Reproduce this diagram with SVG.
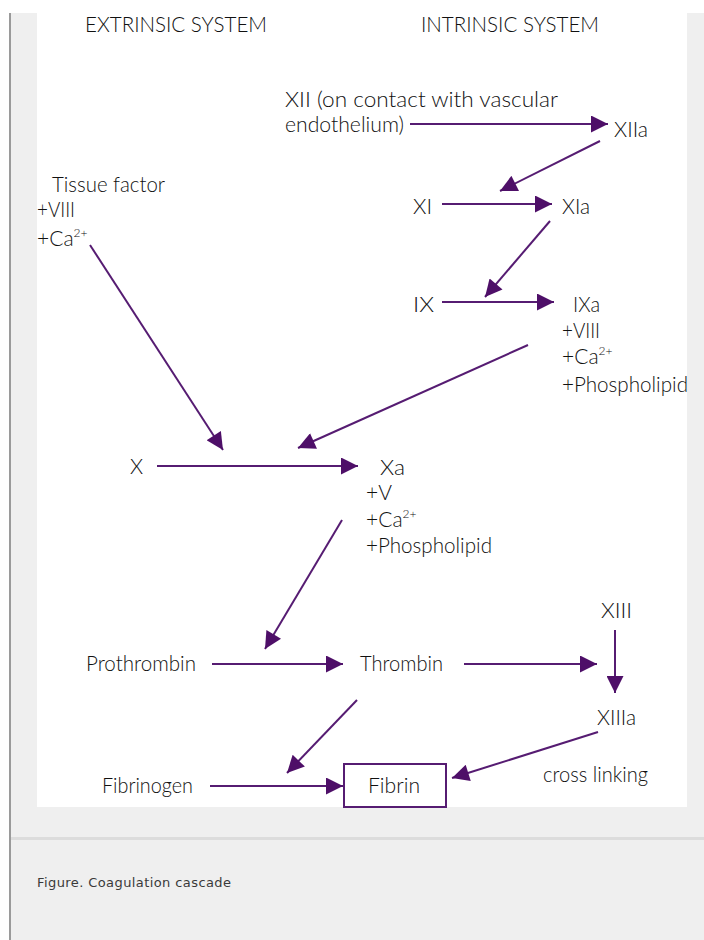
<svg xmlns="http://www.w3.org/2000/svg" width="704" height="940" viewBox="0 0 704 940">
<style>
  .t { font-family: "Lato", "Open Sans", "Liberation Sans", sans-serif; font-size: 21px; font-weight: 300; fill: #111111; }
  .sup { font-size: 12px; }
  .c { stroke: #561c72; stroke-width: 2; fill: none; }
  .cap { font-family: "DejaVu Sans", "Liberation Sans", sans-serif; font-size: 13px; fill: #3a3a3a; }
</style>
<defs>
  <marker id="ah2" viewBox="0 0 10 10" refX="10" refY="5" markerWidth="19" markerHeight="17" markerUnits="userSpaceOnUse" orient="auto">
    <path d="M0,0 L10,5 L0,10 z" fill="#4e0f68"/>
  </marker>
</defs>
<rect x="0" y="0" width="704" height="940" fill="#ffffff"/>
<rect x="11" y="13" width="693" height="927" fill="#efefef"/>
<rect x="9" y="13" width="2" height="927" fill="#9a9a9a"/>
<rect x="37" y="0" width="650" height="807" fill="#ffffff"/>
<rect x="11" y="837" width="693" height="3" fill="#dcdcdc"/>
<text class="cap" x="37" y="887" textLength="194" lengthAdjust="spacing">Figure. Coagulation cascade</text>

<g id="headers">
  <text class="t" x="85" y="32" textLength="182" lengthAdjust="spacingAndGlyphs">EXTRINSIC SYSTEM</text>
  <text class="t" x="421" y="32" textLength="178" lengthAdjust="spacingAndGlyphs">INTRINSIC SYSTEM</text>
</g>

<g id="connectors">
  <line class="c" x1="410" y1="124" x2="608" y2="124" marker-end="url(#ah2)"/>
  <line class="c" x1="600" y1="141" x2="500" y2="191" marker-end="url(#ah2)"/>
  <line class="c" x1="442" y1="204" x2="552" y2="204" marker-end="url(#ah2)"/>
  <line class="c" x1="550" y1="221" x2="485" y2="297" marker-end="url(#ah2)"/>
  <line class="c" x1="442" y1="302" x2="554" y2="302" marker-end="url(#ah2)"/>
  <line class="c" x1="528" y1="345" x2="298" y2="448" marker-end="url(#ah2)"/>
  <line class="c" x1="90" y1="245" x2="223" y2="450" marker-end="url(#ah2)"/>
  <line class="c" x1="157" y1="466" x2="358" y2="466" marker-end="url(#ah2)"/>
  <line class="c" x1="342" y1="520" x2="265" y2="649" marker-end="url(#ah2)"/>
  <line class="c" x1="212" y1="664" x2="343" y2="664" marker-end="url(#ah2)"/>
  <line class="c" x1="464" y1="664" x2="597" y2="664" marker-end="url(#ah2)"/>
  <line class="c" x1="615" y1="630" x2="615" y2="693" marker-end="url(#ah2)"/>
  <line class="c" x1="357" y1="700" x2="287" y2="773" marker-end="url(#ah2)"/>
  <line class="c" x1="598" y1="732" x2="452" y2="778" marker-end="url(#ah2)"/>
  <line class="c" x1="210" y1="786" x2="343" y2="786" marker-end="url(#ah2)"/>
</g>

<g id="xii"><text class="t" x="285" y="107" textLength="273" lengthAdjust="spacingAndGlyphs">XII (on contact with vascular</text><text class="t" x="285" y="132" textLength="119" lengthAdjust="spacingAndGlyphs">endothelium)</text></g>
<g id="xiia"><text class="t" x="614" y="137" textLength="34" lengthAdjust="spacingAndGlyphs">XIIa</text></g>
<g id="tissue-factor">
  <text class="t" x="52" y="192" textLength="113" lengthAdjust="spacingAndGlyphs">Tissue factor</text>
  <text class="t" x="37" y="217" textLength="38" lengthAdjust="spacingAndGlyphs">+VIII</text>
  <text class="t" x="37" y="246">+Ca<tspan class="sup" dy="-9">2+</tspan></text>
</g>
<g id="xi"><text class="t" x="413" y="214" textLength="19" lengthAdjust="spacingAndGlyphs">XI</text></g>
<g id="xia"><text class="t" x="562" y="214" textLength="28" lengthAdjust="spacingAndGlyphs">XIa</text></g>
<g id="ix"><text class="t" x="413" y="312" textLength="21" lengthAdjust="spacingAndGlyphs">IX</text></g>
<g id="ixa">
  <text class="t" x="573" y="312" textLength="27" lengthAdjust="spacingAndGlyphs">IXa</text>
  <text class="t" x="562" y="338" textLength="38" lengthAdjust="spacingAndGlyphs">+VIII</text>
  <text class="t" x="562" y="364">+Ca<tspan class="sup" dy="-9">2+</tspan></text>
  <text class="t" x="562" y="392" textLength="126" lengthAdjust="spacingAndGlyphs">+Phospholipid</text>
</g>
<g id="x"><text class="t" x="130" y="474">X</text></g>
<g id="xa">
  <text class="t" x="380" y="475" textLength="25" lengthAdjust="spacingAndGlyphs">Xa</text>
  <text class="t" x="366" y="500">+V</text>
  <text class="t" x="366" y="527">+Ca<tspan class="sup" dy="-9">2+</tspan></text>
  <text class="t" x="366" y="553" textLength="126" lengthAdjust="spacingAndGlyphs">+Phospholipid</text>
</g>
<g id="xiii"><text class="t" x="601" y="618" textLength="31" lengthAdjust="spacingAndGlyphs">XIII</text></g>
<g id="prothrombin"><text class="t" x="86" y="671" textLength="110" lengthAdjust="spacingAndGlyphs">Prothrombin</text></g>
<g id="thrombin"><text class="t" x="360" y="671" textLength="83" lengthAdjust="spacingAndGlyphs">Thrombin</text></g>
<g id="xiiia"><text class="t" x="597" y="725" textLength="39" lengthAdjust="spacingAndGlyphs">XIIIa</text></g>
<g id="cross-linking"><text class="t" x="543" y="782" textLength="105" lengthAdjust="spacingAndGlyphs">cross linking</text></g>
<g id="fibrinogen"><text class="t" x="102" y="793" textLength="91" lengthAdjust="spacingAndGlyphs">Fibrinogen</text></g>
<g id="fibrin">
  <rect x="344" y="764" width="102" height="43" fill="#ffffff" stroke="#561c72" stroke-width="2"/>
  <text class="t" x="368" y="793" textLength="52" lengthAdjust="spacingAndGlyphs">Fibrin</text>
</g>
</svg>
